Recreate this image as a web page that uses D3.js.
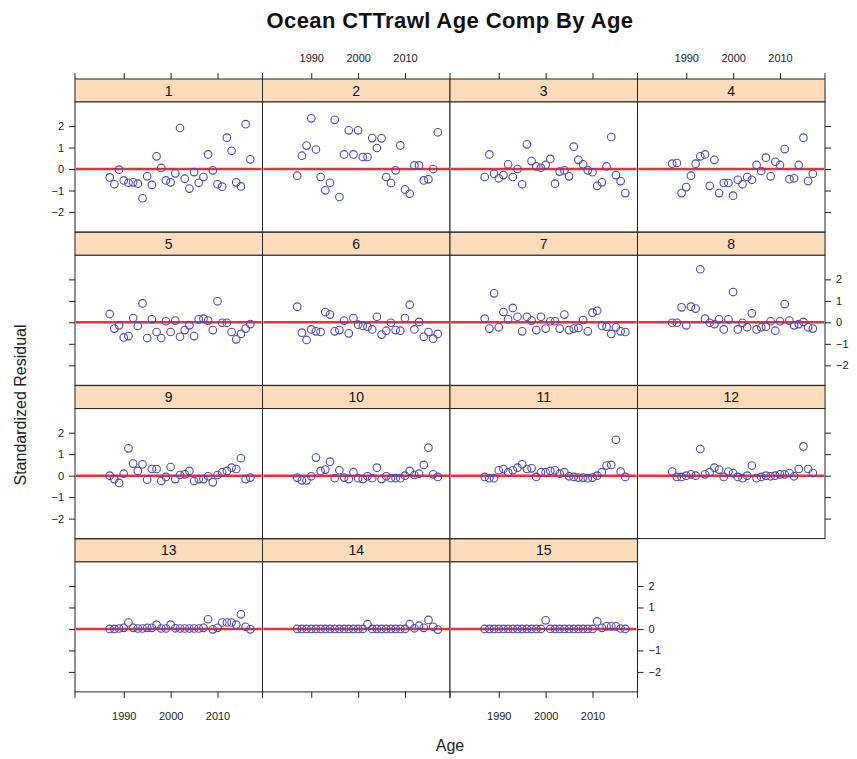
<!DOCTYPE html>
<html><head><meta charset="utf-8">
<script src="https://cdn.jsdelivr.net/npm/d3@7"></script>
<style>body{margin:0;background:#fff}svg{font-family:"Liberation Sans",Arial,sans-serif}</style>
</head><body><svg id="c" width="857" height="759"></svg>
<script>
const years = [1987,1988,1989,1990,1991,1992,1993,1994,1995,1996,1997,1998,1999,2000,2001,2002,2003,2004,2005,2006,2007,2008,2009,2010,2011,2012,2013,2014,2015,2016,2017];
const ages = ["1","2","3","4","5","6","7","8","9","10","11","12","13","14","15"];
const age1 = [-0.39,-0.71,-0.03,-0.53,-0.64,-0.62,-0.68,-1.36,-0.34,-0.74,0.59,0.05,-0.53,-0.62,-0.2,1.91,-0.45,-0.91,-0.14,-0.64,-0.37,0.68,-0.06,-0.71,-0.82,1.46,0.85,-0.62,-0.81,2.09,0.45];
const age2 = [-0.31,0.62,1.09,2.36,0.91,-0.37,-0.99,-0.64,2.29,-1.3,0.68,1.8,0.68,1.8,0.56,0.56,1.44,0.98,1.43,-0.37,-0.65,-0.06,1.1,-0.95,-1.15,0.17,0.17,-0.53,-0.48,0.0,1.71];
const age3 = [-0.37,0.68,-0.22,-0.43,-0.28,0.22,-0.37,0,-0.71,1.15,0.37,0.12,0.06,0.19,0.47,-0.68,-0.12,-0.06,-0.34,1.04,0.43,0.22,-0.06,-0.15,-0.78,-0.62,0.12,1.49,-0.28,-0.56,-1.12];
const age4 = [0.25,0.28,-1.12,-0.84,-0.31,0.25,0.59,0.68,-0.78,0.43,-1.12,-0.65,-0.65,-1.24,-0.5,-0.71,-0.37,-0.5,0.19,-0.09,0.53,-0.34,0.34,0.19,0.93,-0.47,-0.43,0.19,1.46,-0.56,-0.22];
const age5 = [0.39,-0.29,-0.14,-0.7,-0.64,0.2,-0.17,0.88,-0.73,0.14,-0.45,-0.73,0.05,-0.45,0.08,-0.67,-0.36,-0.14,-0.64,0.14,0.17,0.08,-0.36,0.98,-0.02,-0.02,-0.45,-0.79,-0.54,-0.29,-0.08];
const age6 = [0.73,-0.48,-0.82,-0.33,-0.42,-0.45,0.48,0.36,-0.42,-0.36,0.08,-0.51,0.2,-0.11,-0.17,-0.2,-0.33,0.26,-0.57,-0.39,-0.02,-0.36,-0.39,0.2,0.82,-0.33,0.02,-0.67,-0.45,-0.76,-0.54];
const age7 = [0.17,-0.29,1.35,-0.23,0.48,0.14,0.67,0.26,-0.42,0.26,0.08,-0.36,0.26,-0.29,0.05,0.05,-0.29,0.36,-0.36,-0.29,-0.26,0.11,-0.42,0.45,0.54,-0.17,-0.2,-0.54,-0.23,-0.42,-0.45];
const age8 = [-0.02,-0.02,0.7,-0.14,0.73,0.64,2.47,0.17,-0.02,-0.08,0.14,-0.33,0.14,1.41,-0.33,-0.02,-0.23,0.42,-0.33,-0.23,-0.2,0.05,-0.39,0.05,0.85,0.08,-0.14,-0.08,0.02,-0.23,-0.29];
const age9 = [0,-0.16,-0.34,0.09,1.27,0.56,0.22,0.53,-0.19,0.31,0.31,-0.25,-0.06,0.4,-0.16,0.03,0.06,0.22,-0.25,-0.16,-0.16,-0.03,-0.31,0.03,0.16,0.22,0.37,0.31,0.81,-0.16,-0.09];
const age10 = [-0.09,-0.22,-0.22,-0.03,0.84,0.22,0.28,0.65,-0.12,0.25,-0.09,-0.16,0.16,-0.12,-0.16,-0.03,-0.12,0.37,-0.16,-0.03,-0.12,-0.12,-0.12,0,0.22,0.03,0.09,0.5,1.3,0.06,-0.06];
const age11 = [-0.06,-0.12,-0.12,0.25,0.31,0.16,0.25,0.37,0.53,0.31,0.34,-0.06,0.16,0.16,0.22,0.25,0.09,0.16,-0.03,-0.06,-0.09,-0.09,-0.12,-0.09,0,0.16,0.47,0.5,1.67,0.19,-0.06];
const age12 = [0.19,-0.06,-0.06,0,0.06,0,1.24,0.06,0.16,0.37,0.28,-0.06,0.19,0.12,-0.06,-0.12,0,0.47,-0.12,-0.06,0,-0.03,0,0.06,0.06,0.12,-0.03,0.31,1.36,0.31,0.12];
const age13 = [0,0,0.02,0.05,0.3,0.05,0.02,0.02,0.05,0.05,0.2,0.02,0.02,0.2,0.03,0.02,0.02,0.02,0.02,0.02,0.05,0.45,-0.02,0.05,0.3,0.3,0.3,0.2,0.68,0.1,-0.02];
const age14 = [0,0,0,0,0,0,0,0,0,0,0,0,0,0,0,0.22,0,0,0,0,0,0,0,0,0.22,0.03,0.15,0.05,0.42,0.1,-0.03];
const age15 = [0,0,0,0,0,0,0,0,0,0,0,0,0,0.4,0,0,0,0,0,0,0,0,0,0,0.35,0.05,0.12,0.12,0.12,0.02,0];
const residuals = [age1,age2,age3,age4,age5,age6,age7,age8,age9,age10,age11,age12,age13,age14,age15];
const xTicks = [1990,2000,2010];
const yTicks = [-2,-1,0,1,2];

const svg = d3.select("#c");
const L = 75, colW = 187.5, top0 = 79, stripH = 23, panelH = 130, pitch = 153.3, nRows = 4;
const ptCol = "#4a4ab8", lineCol = "#e8303a", stripCol = "#fddcbc";

svg.append("text").attr("x",450).attr("y",28).attr("text-anchor","middle")
  .attr("font-size",22).attr("font-weight","bold").attr("letter-spacing","0.4px")
  .attr("fill","#111").text("Ocean CTTrawl Age Comp By Age");

ages.forEach((a,i)=>{
  const col = i%4, row = Math.floor(i/4);
  const x0 = L + col*colW, sy = top0 + row*pitch, py0 = sy + stripH, py1 = py0 + panelH;
  const x = d3.scaleLinear().domain([1979.6,2019.6]).range([x0,x0+colW]);
  const y = d3.scaleLinear().domain([-2.93,3.12]).range([py1,py0]);
  const g = svg.append("g");
  g.append("rect").attr("x",x0).attr("y",sy).attr("width",colW).attr("height",stripH)
    .attr("fill",stripCol).attr("stroke","#222").attr("stroke-width",1);
  g.append("text").attr("x",x0+colW/2).attr("y",sy+stripH/2+5).attr("text-anchor","middle")
    .attr("font-size",14).attr("fill","#111").text(a);
  g.append("rect").attr("x",x0).attr("y",py0).attr("width",colW).attr("height",panelH)
    .attr("fill","#fff").attr("stroke","#222").attr("stroke-width",1);
  g.append("line").attr("x1",x0+1).attr("x2",x0+colW-1).attr("y1",y(0)).attr("y2",y(0))
    .attr("stroke",lineCol).attr("stroke-width",2.5);
  g.selectAll("circle").data(residuals[i]).join("circle")
    .attr("cx",(d,j)=>x(years[j])).attr("cy",d=>y(d)).attr("r",3.8)
    .attr("fill","none").attr("stroke",ptCol).attr("stroke-width",1.1);

  const styleAxis = sel => { sel.select(".domain").remove(); sel.selectAll("text").attr("font-size",11).attr("fill","#222"); sel.selectAll("line").attr("stroke","#222"); sel.attr("font-family",null); };
  if (row===0) {
    const ax = d3.axisTop(x).tickValues(xTicks).tickSize(6).tickPadding(11)
      .tickFormat(col%2===1 ? d3.format("d") : ()=> "");
    svg.append("g").attr("transform",`translate(0,${sy})`).call(ax).call(styleAxis);
    svg.append("line").attr("x1",x0).attr("x2",x0).attr("y1",sy-6).attr("y2",sy).attr("stroke","#222");
    if (col===3) svg.append("line").attr("x1",x0+colW).attr("x2",x0+colW).attr("y1",sy-6).attr("y2",sy).attr("stroke","#222");
  }
  if (row===nRows-1) {
    const ax = d3.axisBottom(x).tickValues(xTicks).tickSize(6).tickPadding(14)
      .tickFormat(col%2===0 ? d3.format("d") : ()=> "");
    svg.append("g").attr("transform",`translate(0,${py1})`).call(ax).call(styleAxis);
    svg.append("line").attr("x1",x0).attr("x2",x0).attr("y1",py1).attr("y2",py1+6).attr("stroke","#222");
    svg.append("line").attr("x1",x0+colW).attr("x2",x0+colW).attr("y1",py1).attr("y2",py1+6).attr("stroke","#222");
  }
  if (col===0) {
    const ax = d3.axisLeft(y).tickValues(yTicks).tickSize(6).tickPadding(5)
      .tickFormat(row%2===0 ? d3.format("d") : ()=> "");
    svg.append("g").attr("transform",`translate(${x0},0)`).call(ax).call(styleAxis);
  }
  if (i===ages.length-1 || col===3) {
    const ax = d3.axisRight(y).tickValues(yTicks).tickSize(6).tickPadding(5)
      .tickFormat(row%2===1 ? d3.format("d") : ()=> "");
    svg.append("g").attr("transform",`translate(${x0+colW},0)`).call(ax).call(styleAxis);
  }
});

svg.append("text").attr("transform","translate(26,405) rotate(-90)").attr("text-anchor","middle")
  .attr("font-size",16).attr("fill","#222").text("Standardized Residual");
svg.append("text").attr("x",450).attr("y",751).attr("text-anchor","middle")
  .attr("font-size",16).attr("fill","#222").text("Age");
</script></body></html>
